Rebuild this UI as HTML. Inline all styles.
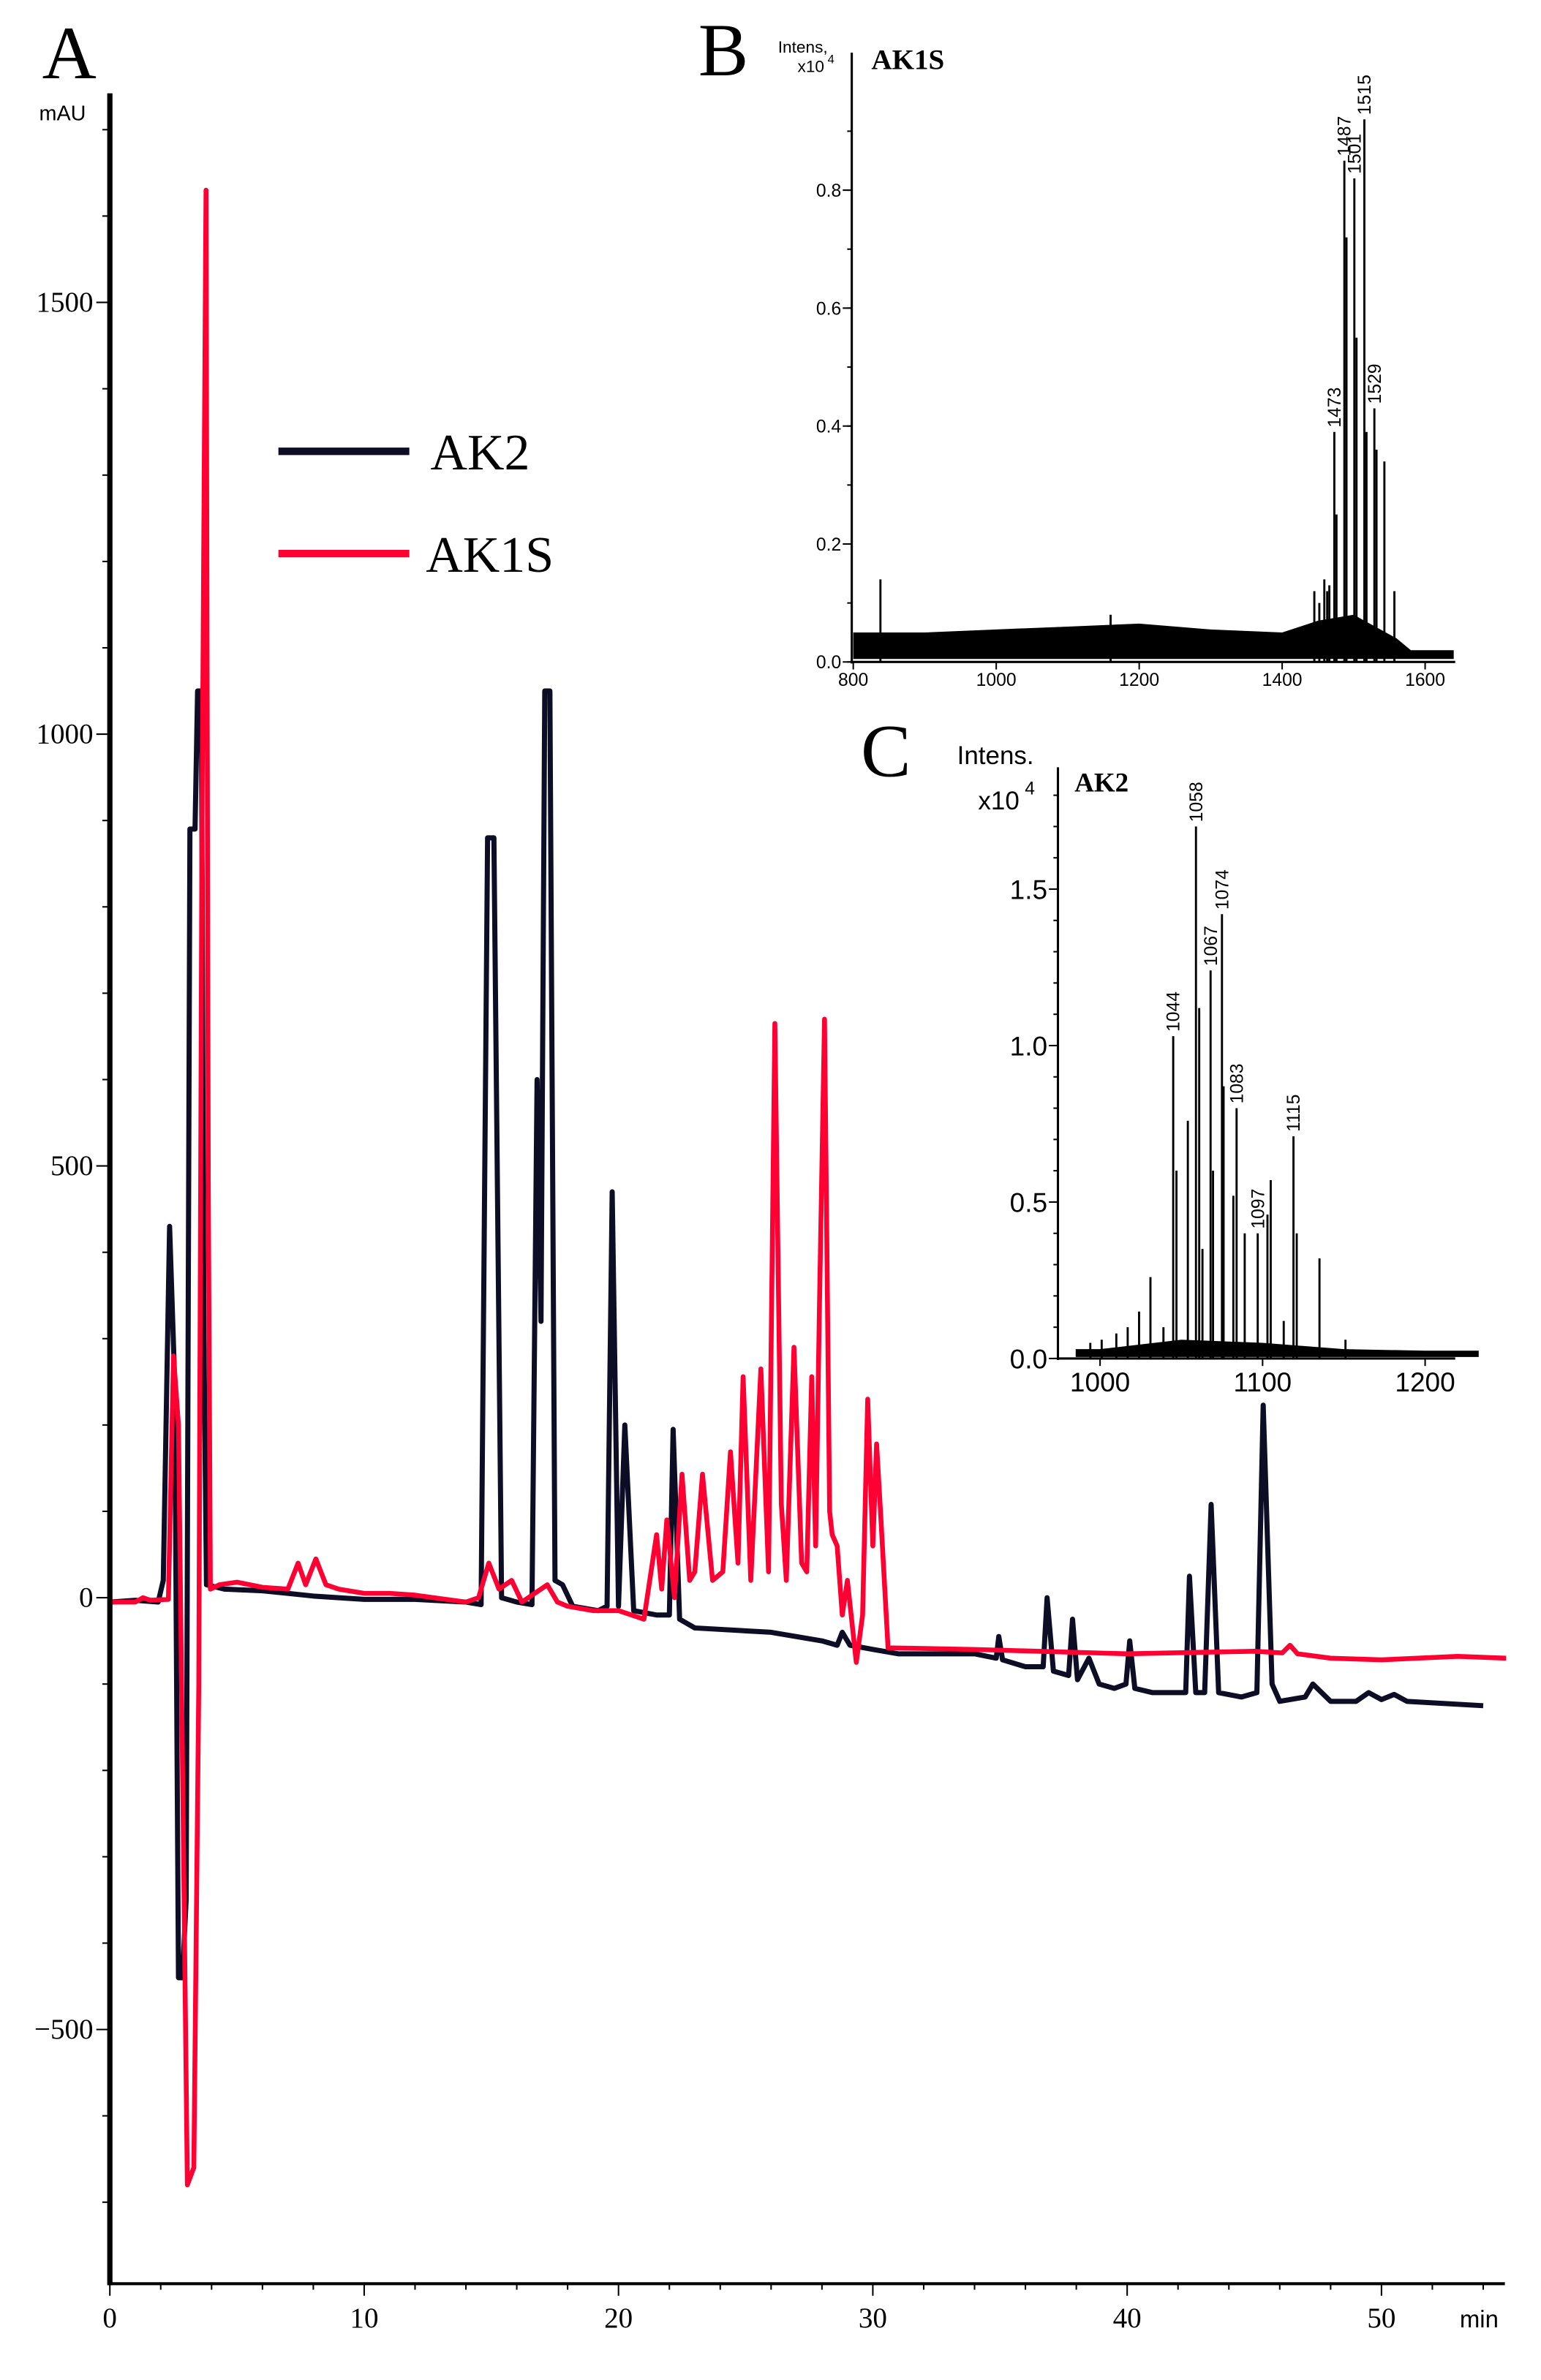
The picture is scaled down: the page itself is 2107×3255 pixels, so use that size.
<!DOCTYPE html>
<html><head><meta charset="utf-8"><style>
html,body{margin:0;padding:0;background:#fff}
svg{display:block}
.serif{font-family:"Liberation Serif",serif}
.sans{font-family:"Liberation Sans",sans-serif}
</style></head><body>
<svg id="fig" width="2107" height="3255" viewBox="0 0 1024 1582" preserveAspectRatio="none" xmlns="http://www.w3.org/2000/svg">
<rect width="1024" height="1582" fill="#fff"/>
<g id="panelA"></g>
<g id="panelB"></g>
<g id="panelC"></g>
</svg>
<script>
// ---- Panel A data (time min, mAU) ----
const ak2T = [0,1,1.9,2.1,2.35,2.55,2.7,2.85,3.0,3.15,3.35,3.45,3.6,3.7,3.8,4.5,6,8,10,12,14,14.6,14.85,15.1,15.4,16,16.6,16.8,16.95,17.1,17.3,17.5,17.8,18.2,19.2,19.55,19.75,20.0,20.25,20.6,21.5,22.0,22.15,22.4,23,26,28,28.6,28.8,29.1,30,31,34,34.85,34.95,35.1,36,36.7,36.85,37.1,37.7,37.85,38.05,38.5,38.9,39.5,39.95,40.1,40.3,41,42,42.3,42.45,42.7,43.05,43.3,43.6,44.5,45.1,45.35,45.7,46,47,47.3,48,49,49.5,50,50.5,51,54];
const ak2V = [-5,-3,-5,20,430,250,-440,-440,-350,890,890,1050,1050,300,15,10,8,2,-2,-2,-5,-8,880,880,0,-5,-8,600,320,1050,1050,20,15,-10,-15,-10,470,-10,200,-15,-20,-20,195,-25,-35,-40,-50,-55,-40,-55,-60,-65,-65,-70,-45,-72,-80,-80,0,-85,-90,-25,-95,-70,-100,-105,-100,-50,-105,-110,-110,-110,25,-110,-110,108,-110,-115,-110,223,-100,-120,-115,-100,-120,-120,-110,-118,-112,-120,-125];
const ak1sT = [0,1,1.3,1.6,2.3,2.5,2.7,2.9,3.05,3.3,3.5,3.62,3.78,3.87,3.95,4.3,5,6,7,7.4,7.7,8.1,8.5,9,10,11,12,14,14.5,14.9,15.3,15.8,16.2,17.2,17.6,18,19,20,21.0,21.5,21.7,21.9,22.2,22.5,22.8,23.0,23.3,23.7,24.1,24.4,24.7,24.9,25.2,25.6,25.9,26.15,26.4,26.6,26.9,27.2,27.4,27.6,27.75,27.9,28.1,28.3,28.4,28.6,28.8,29.0,29.35,29.6,29.8,30.0,30.15,30.3,30.6,34,40,45,46.1,46.4,46.7,48,50,53,54.9];
const ak1sV = [-5,-5,0,-3,-2,280,200,-300,-680,-660,-100,890,1630,480,10,15,18,12,10,40,15,45,15,10,5,5,3,-5,0,40,10,20,-5,15,-5,-10,-15,-15,-25,73,10,90,0,143,20,30,143,20,30,169,40,256,20,265,30,665,108,20,290,40,30,256,60,335,670,100,73,60,-20,20,-75,-20,230,60,178,100,-58,-60,-65,-62,-64,-55,-65,-70,-72,-68,-70];
const aYTicks = [-500,0,500,1000,1500];
const aYLabels = ["\u2212500","0","500","1000","1500"];
const aXTicks = [0,10,20,30,40,50];
// ---- Panel B data (m/z, intensity x10^4) ----
const bPeakMz = [838,1160,1445,1452,1459,1463,1466,1473,1476,1487,1490,1501,1504,1515,1518,1529,1532,1543,1557];
const bPeakInt = [0.14,0.08,0.12,0.10,0.14,0.12,0.13,0.39,0.25,0.85,0.72,0.82,0.55,0.92,0.39,0.43,0.36,0.34,0.12];
const bLabelMz = [1473,1487,1501,1515,1529];
const bLabelInt = [0.39,0.85,0.82,0.92,0.43];
const bNoiseMz = [800,900,1000,1100,1200,1300,1400,1450,1500,1560,1580,1640];
const bNoiseHi = [0.05,0.05,0.055,0.06,0.065,0.055,0.05,0.07,0.08,0.04,0.02,0.02];
const bYTicks = [0,0.2,0.4,0.6,0.8];
const bXTicks = [800,1000,1200,1400,1600];
// ---- Panel C data ----
const cPeakMz = [994,1001,1010,1017,1024,1031,1039,1045,1047,1054,1059,1061,1063,1068,1069.5,1075,1076,1082,1084,1089,1097,1103,1105,1113,1119,1121,1135,1151];
const cPeakInt = [0.05,0.06,0.08,0.1,0.15,0.26,0.1,1.03,0.6,0.76,1.7,1.12,0.35,1.24,0.6,1.42,0.87,0.52,0.8,0.4,0.4,0.46,0.57,0.12,0.71,0.4,0.32,0.06];
const cLabelText = ["1044","1058","1067","1074","1083","1097","1115"];
const cLabelMz = [1045,1059,1068,1075,1084,1097,1119];
const cLabelInt = [1.03,1.7,1.24,1.42,0.8,0.4,0.71];
const cNoiseMz = [985,1000,1050,1100,1150,1200,1233];
const cNoiseHi = [0.03,0.03,0.06,0.05,0.03,0.025,0.025];
const cYTicks = [0,0.5,1.0,1.5];
const cXTicks = [1000,1100,1200];

const NS="http://www.w3.org/2000/svg";
function mk(parent,tag,attrs,text){const e=document.createElementNS(NS,tag);for(const k in attrs)e.setAttribute(k,attrs[k]);if(text!==undefined)e.textContent=text;parent.appendChild(e);return e;}

// ===== Panel A =====
const A=document.getElementById('panelA');
const ax=t=>73+t*16.9, ay=v=>1062-v*287/500;
let e;
e=mk(A,'text',{x:28,y:52,'font-size':50,class:'serif'},'A');


e=mk(A,'text',{x:26,y:80,'font-size':14,class:'sans'},'mAU');


for(let v=-700;v<=1700;v+=100){
  const major=v%500===0;
  e=mk(A,'line',{x1:major?64:68,x2:73,y1:ay(v),y2:ay(v),stroke:'#000','stroke-width':1});
  
  
}
aYTicks.forEach((v,i)=>{
  e=mk(A,'text',{x:62,y:ay(v)+6,'font-size':19,'text-anchor':'end',class:'serif'},aYLabels[i]);
  
  
});
for(let t=0;t<=54;t+=2){
  e=mk(A,'line',{x1:ax(t),x2:ax(t),y1:1518,y2:t%10===0?1526:1522,stroke:'#000','stroke-width':1});
  
  
}
aXTicks.forEach(t=>{
  e=mk(A,'text',{x:ax(t),y:1547,'font-size':19,'text-anchor':'middle',class:'serif'},String(t));
  
  
});
e=mk(A,'text',{x:970,y:1547,'font-size':16,class:'sans'},'min');


function poly(g,T,V,color,name,w){
  const pts=T.map((t,i)=>ax(t).toFixed(1)+','+ay(V[i]).toFixed(1)).join(' ');
  const p=mk(g,'polyline',{points:pts,fill:'none',stroke:color,'stroke-width':w,'stroke-linejoin':'round'});
  
  
}
poly(A,ak2T,ak2V,'#0d0d26','ak2-trace',3.4);
poly(A,ak1sT,ak1sV,'#ff0033','ak1s-trace',3.2);
e=mk(A,'line',{x1:73,x2:73,y1:62,y2:1519,stroke:'#000','stroke-width':3.5});


e=mk(A,'line',{x1:72,x2:1000,y1:1518,y2:1518,stroke:'#000','stroke-width':2});


// legend
e=mk(A,'line',{x1:185,x2:272,y1:300,y2:300,stroke:'#0d0d26','stroke-width':5});


e=mk(A,'text',{x:286,y:312,'font-size':34,class:'serif'},'AK2');


e=mk(A,'line',{x1:185,x2:272,y1:368,y2:368,stroke:'#ff0033','stroke-width':5});


e=mk(A,'text',{x:283,y:380,'font-size':34,class:'serif'},'AK1S');



// ===== MS panel builder =====
function msPanel(g,cfg){
  const {x0,y0,yTop,xEnd,mx,my,peakMz,peakInt,noiseMz,noiseHi,yTicks,minorStep,yMax,xTicks,fs}=cfg;
  const top=noiseMz.map((m,i)=>mx(m).toFixed(1)+','+my(noiseHi[i]).toFixed(1));
  const bot=noiseMz.slice().reverse().map(m=>mx(m).toFixed(1)+','+my(0.005).toFixed(1));
  let p=mk(g,'polygon',{points:top.concat(bot).join(' '),fill:'#000'});
  
  
  peakMz.forEach((m,i)=>{
    const l=mk(g,'line',{x1:mx(m),x2:mx(m),y1:y0,y2:my(peakInt[i]),stroke:'#000','stroke-width':1.4});
    
    
  });
  for(let v=0;v<=yMax+1e-9;v+=minorStep){
    const l=mk(g,'line',{x1:x0-3,x2:x0,y1:my(v),y2:my(v),stroke:'#000','stroke-width':1});
    
    
  }
  yTicks.forEach(v=>{
    const l=mk(g,'line',{x1:x0-6,x2:x0,y1:my(v),y2:my(v),stroke:'#000','stroke-width':1});
    
    
    const t=mk(g,'text',{x:x0-7,y:my(v)+fs*0.36,'font-size':fs,'text-anchor':'end',class:'sans'},v.toFixed(1));
    
    
  });
  xTicks.forEach(m=>{
    const l=mk(g,'line',{x1:mx(m),x2:mx(m),y1:y0,y2:y0+5,stroke:'#000','stroke-width':1});
    
    
    const t=mk(g,'text',{x:mx(m),y:y0+fs+4,'font-size':fs,'text-anchor':'middle',class:'sans'},String(m));
    
    
  });
  let a=mk(g,'line',{x1:x0,x2:x0,y1:yTop,y2:y0+1,stroke:'#000','stroke-width':1.5});
  
  
  a=mk(g,'line',{x1:x0,x2:xEnd,y1:y0,y2:y0,stroke:'#000','stroke-width':1.5});
  
  
}
function peakLabels(g,mx,my,mzs,ints,texts,fs){
  mzs.forEach((m,i)=>{
    const X=mx(m)+fs*0.35, Y=my(ints[i])-3;
    const t=mk(g,'text',{x:X,y:Y,'font-size':fs,class:'sans',transform:`rotate(-90 ${X} ${Y})`},texts[i]);
    
    
  });
}

// ===== Panel B =====
const B=document.getElementById('panelB');
const bx=m=>567+(m-800)*0.475, by=v=>440-v*392;
msPanel(B,{x0:566,y0:440,yTop:35,xEnd:967,mx:bx,my:by,peakMz:bPeakMz,peakInt:bPeakInt,noiseMz:bNoiseMz,noiseHi:bNoiseHi,yTicks:bYTicks,minorStep:0.1,yMax:0.9,xTicks:bXTicks,fs:12});
peakLabels(B,bx,by,bLabelMz,bLabelInt,bLabelMz.map(String),12);
e=mk(B,'text',{x:464,y:50,'font-size':50,class:'serif'},'B');


e=mk(B,'text',{x:517,y:35,'font-size':11,class:'sans'},'Intens,');


e=mk(B,'text',{x:530,y:48,'font-size':11,class:'sans'},'x10');


e=mk(B,'text',{x:550,y:42,'font-size':8,class:'sans'},'4');


e=mk(B,'text',{x:579,y:46,'font-size':19,'font-weight':'bold',class:'serif'},'AK1S');



// ===== Panel C =====
const C=document.getElementById('panelC');
const cx=m=>731+(m-1000)*1.08, cy=v=>903-v*208;
msPanel(C,{x0:703,y0:903,yTop:510,xEnd:967,mx:cx,my:cy,peakMz:cPeakMz,peakInt:cPeakInt,noiseMz:cNoiseMz,noiseHi:cNoiseHi,yTicks:cYTicks,minorStep:0.1,yMax:1.8,xTicks:cXTicks,fs:18});
peakLabels(C,cx,cy,cLabelMz,cLabelInt,cLabelText,12);
e=mk(C,'text',{x:572,y:516,'font-size':50,class:'serif'},'C');


e=mk(C,'text',{x:636,y:508,'font-size':17,class:'sans'},'Intens.');


e=mk(C,'text',{x:650,y:538,'font-size':17,class:'sans'},'x10');


e=mk(C,'text',{x:681,y:528,'font-size':12,class:'sans'},'4');


e=mk(C,'text',{x:714,y:526,'font-size':18,'font-weight':'bold',class:'serif'},'AK2');


</script>
</body></html>
